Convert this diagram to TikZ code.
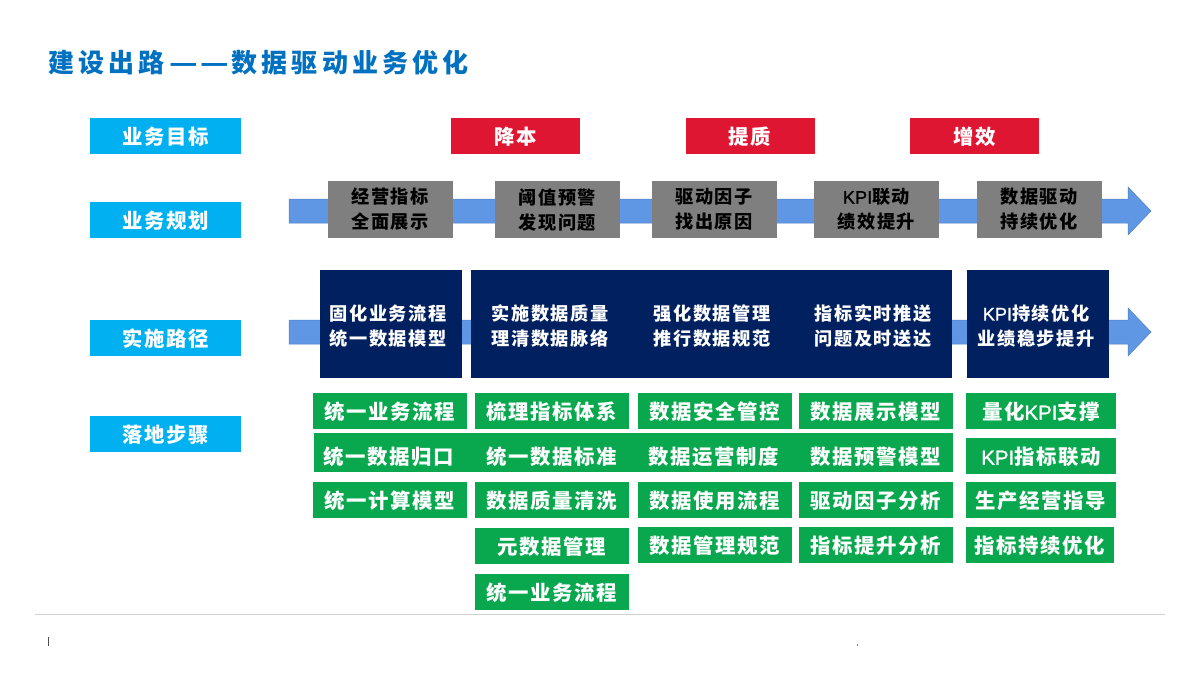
\documentclass[tikz,border=0pt]{standalone}
\usepackage{fontspec}
\usepackage{graphicx}
\setmainfont{Noto Sans CJK SC}[BoldFont=Noto Sans CJK SC Bold]
\newfontfamily\wideface{Noto Sans CJK SC Black}[LetterSpace=8]
\newfontfamily\titleface{Noto Sans CJK SC Black}[LetterSpace=16]
\newfontfamily\latinface{Liberation Sans}[FakeBold=1]
\newcommand{\kpiword}{{\latinface KPI}}
\newcommand{\titledash}{\makebox[31pt][l]{\scalebox{1.2}[1]{—}}}
\newcommand{\lowertext}[1]{\raisebox{-2.6pt}[0.8em][0.2em]{#1}}
\definecolor{labelblue}{HTML}{00B0F0}
\definecolor{goalred}{HTML}{DF1632}
\definecolor{plangray}{HTML}{7F7F7F}
\definecolor{pathnavy}{HTML}{002060}
\definecolor{stepgreen}{HTML}{09A84F}
\definecolor{flowblue}{HTML}{5F97E5}
\definecolor{titleblue}{HTML}{0070C0}
\tikzset{
  flatbox/.style={inner sep=0pt,align=center,text=white,font=\wideface\fontsize{20.4}{25}\selectfont},
  labelbox/.style={flatbox,fill=labelblue,minimum width=151pt,minimum height=36pt},
  goalbox/.style={flatbox,fill=goalred,minimum width=129pt,minimum height=36pt},
  planbox/.style={flatbox,fill=plangray,text=black,minimum width=125pt,minimum height=57pt,font=\wideface\fontsize{18.2}{25}\selectfont},
  pathbox/.style={flatbox,fill=pathnavy,minimum height=108pt},
  pathtext/.style={flatbox,font=\wideface\fontsize{18.2}{25}\selectfont},
  stepbox/.style={flatbox,fill=stepgreen,minimum width=154pt,minimum height=36pt,font=\wideface\fontsize{20.4}{25}\selectfont},
  steptext/.style={flatbox,font=\wideface\fontsize{20.4}{25}\selectfont},
  flowarrow/.style={fill=flowblue,draw=flowblue!85!black,line width=0.5pt}
}
\begin{document}
\begin{tikzpicture}[x=1pt,y=-1pt]
  \useasboundingbox (0,0) rectangle (1200,675);
  \node[anchor=west,inner sep=0pt,text=titleblue,font=\titleface\fontsize{26}{30}\selectfont] (title) at (48,63) {建设出路\kern5pt\titledash\titledash 数据驱动业务优化};

  % left column
  \foreach \y/\txt [count=\xi] in {136/业务目标,220/业务规划,338/实施路径,434/落地步骤}
    \node[labelbox] (label\xi) at (165.5,\y) {\lowertext{\txt}};

  \foreach \x/\txt [count=\xi] in {515.5/降本,750/提质,974.5/增效}
    \node[goalbox] (goal\xi) at (\x,136) {\lowertext{\txt}};

  % long arrows
  \foreach \y in {211,332}
    \draw[flowarrow] (289,\y-12) -- (1128,\y-12) -- (1128,\y-24) -- (1151,\y) -- (1128,\y+24) -- (1128,\y+12) -- (289,\y+12) -- cycle;

  \foreach \x/\txt [count=\xi] in {390/经营指标\\全面展示,557.5/阈值预警\\发现问题,714/驱动因子\\找出原因,876.5/\kpiword{}联动\\绩效提升,1039/数据驱动\\持续优化}
    \node[planbox] (plan\xi) at (\x,209.5) {\txt};

  \node[pathbox,minimum width=142pt] (path1) at (391,324) {};
  \node[pathbox,minimum width=481pt] (path2) at (711.5,324) {};
  \node[pathbox,minimum width=142pt] (path3) at (1038,324) {};
  \foreach \x/\txt [count=\xi] in {388/固化业务流程\\统一数据模型,550/实施数据质量\\理清数据脉络,712/强化数据管理\\推行数据规范,873/指标实时推送\\问题及时送达,1036/\kpiword{}持续优化\\业绩稳步提升}
    \node[pathtext] (pathtext\xi) at (\x,326) {\txt};

  % green steps
  \node[stepbox,minimum width=639pt,minimum height=39pt] (stepwide) at (633.5,452.5) {};
  \foreach \x/\y/\txt [count=\xi] in {
    390/411/统一业务流程,390/500/统一计算模型,
    552/411/梳理指标体系,552/500/数据质量清洗,552/546/元数据管理,552/592/统一业务流程,
    714.5/411/数据安全管控,714.5/500/数据使用流程,714.5/545/数据管理规范,
    875.5/411/数据展示模型,875.5/500/驱动因子分析,875.5/545/指标提升分析}
    \node[stepbox] (step\xi) at (\x,\y) {\lowertext{\txt}};
  \foreach \x/\y/\w/\txt [count=\xi] in {
    1041/411/150/量化\kpiword{}支撑,1041/456/150/\kpiword{}指标联动,1041/500/150/生产经营指导,1040/545/148/指标持续优化}
    \node[stepbox,minimum width=\w pt] (lastep\xi) at (\x,\y) {\lowertext{\txt}};
  \foreach \x/\txt [count=\xi] in {389/统一数据归口,552/统一数据标准,714/数据运营制度,875.5/数据预警模型}
    \node[steptext] (widetext\xi) at (\x,457) {\txt};

  % footer
  \draw[line width=1pt,black!18] (35,614) -- (1165,614);
  \draw[line width=0.4pt,black!70] (48.5,637) -- (48.5,646);
  \draw[line width=0.4pt,black!50] (857,644) -- (857,645.5);
\end{tikzpicture}
\end{document}
